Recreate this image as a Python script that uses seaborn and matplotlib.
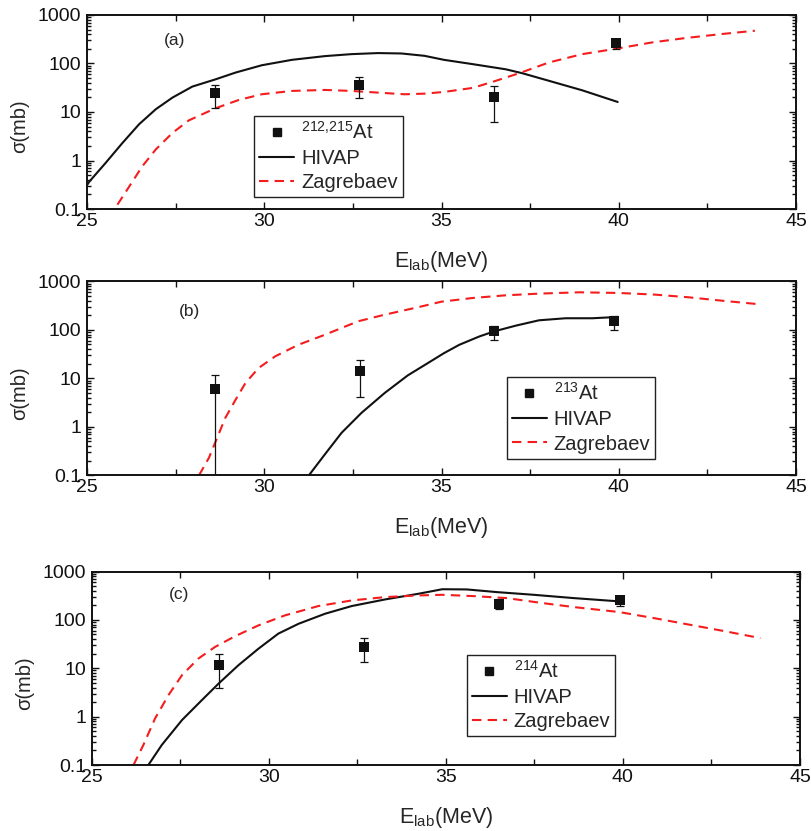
import numpy as np
import pandas as pd
import matplotlib
matplotlib.use("Agg")
import matplotlib.pyplot as plt
from matplotlib.ticker import LogLocator, NullFormatter, FixedLocator, MultipleLocator
from matplotlib.lines import Line2D
import seaborn as sns

# ---------------- data ----------------
# Panel (a): 212,215At
a_exp_E = [28.6, 32.67, 36.47, 39.91]
a_exp_s = [24.3, 35.6, 20.8, 259.0]
a_exp_lo = [12.3, 19.8, 6.2, 198.0]
a_exp_hi = [36.0, 53.0, 34.5, 309.0]
a_hiv_E = [25.0, 25.07, 25.53, 26.0, 26.47, 26.94, 27.41, 27.97, 28.62, 29.19, 29.93, 30.78, 31.71,
           32.46, 33.21, 33.87, 34.52, 35.07, 35.88, 36.81, 37.28, 38.03, 38.97, 39.97]
a_hiv_s = [0.31, 0.37, 0.9, 2.3, 5.6, 11.4, 19.8, 33.4, 47, 65, 92, 119, 142,
           156, 164, 161, 144, 119, 97, 76, 63, 44, 28, 16.1]
a_zag_E = [25.86, 26.19, 26.56, 26.94, 27.41, 27.87, 28.62, 29.28, 29.93, 30.78, 31.71, 32.46, 33.21,
           33.96, 34.52, 35.07, 35.88, 36.44, 37.19, 38.03, 38.97, 39.97, 40.94, 41.87, 42.9, 43.84]
a_zag_s = [0.123, 0.29, 0.76, 1.69, 3.7, 6.7, 11.9, 17.7, 23.2, 27.2, 28.5, 27.2, 25.1,
           23.2, 23.9, 25.9, 31.4, 41.8, 63, 105, 156, 204, 272, 334, 405, 474]

# Panel (b): 213At
b_exp_E = [28.62, 32.71, 36.49, 39.88]
b_exp_s = [6.1, 13.9, 93.0, 155.0]
b_exp_lo = [0.001, 4.1, 61.0, 100.0]
b_exp_hi = [11.9, 24.3, 122.0, 196.0]
b_hiv_E = [31.26, 31.71, 32.18, 32.74, 33.4, 34.05, 34.62, 35.07, 35.5, 36.07, 36.49, 37.1, 37.75,
           38.5, 39.25, 39.97]
b_hiv_s = [0.1, 0.27, 0.75, 1.93, 5.0, 11.5, 20.7, 33, 49, 73, 93, 122, 157,
           173, 173, 184]
b_zag_E = [28.16, 28.44, 28.67, 28.9, 29.19, 29.47, 29.84, 30.31, 30.96, 31.71, 32.65, 33.4, 34.33,
           35.0, 35.88, 36.81, 37.75, 38.87, 40.0, 41.03, 41.97, 42.9, 43.88]
b_zag_s = [0.1, 0.23, 0.59, 1.52, 3.6, 8.0, 16.3, 28.4, 49, 79, 150, 205, 291,
           380, 453, 514, 557, 593, 575, 531, 468, 399, 341]

# Panel (c): 214At
c_exp_E = [28.6, 32.7, 36.5, 39.91]
c_exp_s = [11.9, 27.5, 215.0, 252.0]
c_exp_lo = [3.9, 13.5, 165.0, 193.0]
c_exp_hi = [20.0, 42.0, 270.0, 310.0]
c_hiv_E = [26.6, 26.98, 27.55, 28.11, 28.58, 29.14, 29.71, 30.27, 30.84, 31.59, 32.34, 33.29, 34.23,
           34.9, 35.59, 36.44, 37.48, 38.61, 39.9]
c_hiv_s = [0.1, 0.26, 0.85, 2.19, 4.8, 11.5, 25.4, 52, 83, 134, 193, 265, 347,
           430, 426, 375, 330, 282, 241]
c_zag_E = [26.18, 26.46, 26.79, 27.17, 27.55, 28.01, 28.48, 29.05, 29.71, 30.46, 31.4, 32.34, 33.29,
           34.23, 34.9, 35.78, 36.72, 37.66, 38.61, 39.9, 40.96, 41.9, 42.84, 43.88]
c_zag_s = [0.1, 0.26, 0.92, 2.8, 7.2, 15.8, 27.5, 46, 77, 124, 193, 252, 296,
           320, 330, 310, 282, 226, 184, 145, 106, 79, 59, 42]

panel_tags = ["(a)", "(b)", "(c)"]
isotopes = [r"$^{212{,}215}$At", r"$^{213}$At", r"$^{214}$At"]
series_names = ["HIVAP", "Zagrebaev"]
x_ticks = [25, 30, 35, 40, 45]
y_ticks = [0.1, 1, 10, 100, 1000]
y_tick_labels = ["0.1", "1", "10", "100", "1000"]
x_label = r"E$_{\mathrm{lab}}$(MeV)"
y_label = "σ(mb)"

# ---------------- style ----------------
sns.set_style("ticks")
plt.rcParams["font.family"] = ["Liberation Sans", "DejaVu Sans"]
plt.rcParams["mathtext.fontset"] = "custom"
plt.rcParams["mathtext.rm"] = "Liberation Sans"
plt.rcParams["mathtext.it"] = "Liberation Sans"
plt.rcParams["mathtext.default"] = "rm"
FS = 14
RED = "#f41c1c"
DASH = (0, (4.5, 3))

fig = plt.figure(figsize=(8.11, 8.31), dpi=100)
W, H = 811.0, 831.0
# pixel boxes (left, right, top, bottom)
boxes = [(87, 796, 15, 209), (87, 796, 281.3, 475.3), (91.7, 800, 571.5, 765)]
axes_rects = [[l / W, 1 - b / H, (r - l) / W, (b - t) / H] for (l, r, t, b) in boxes]
legend_anchors = [(254 / W, 1 - 116 / H), (506.7 / W, 1 - 377.3 / H), (466.7 / W, 1 - 655 / H)]
tag_pos = [(27.48, 305), (27.88, 241), (27.47, 342)]

panels = [
    (a_exp_E, a_exp_s, a_exp_lo, a_exp_hi, a_hiv_E, a_hiv_s, a_zag_E, a_zag_s),
    (b_exp_E, b_exp_s, b_exp_lo, b_exp_hi, b_hiv_E, b_hiv_s, b_zag_E, b_zag_s),
    (c_exp_E, c_exp_s, c_exp_lo, c_exp_hi, c_hiv_E, c_hiv_s, c_zag_E, c_zag_s),
]

for i, (eE, es, elo, ehi, hE, hs, zE, zs) in enumerate(panels):
    ax = fig.add_axes(axes_rects[i])
    ax.set_yscale("log")
    df_h = pd.DataFrame({"E": hE, "s": hs})
    df_z = pd.DataFrame({"E": zE, "s": zs})
    df_e = pd.DataFrame({"E": eE, "s": es})
    sns.lineplot(data=df_h, x="E", y="s", ax=ax, color="#111111", lw=1.5, sort=False)
    sns.lineplot(data=df_z, x="E", y="s", ax=ax, color=RED, lw=1.5, sort=False,
                 linestyle=DASH)
    yerr = np.array([np.array(es) - np.array(elo), np.array(ehi) - np.array(es)])
    ax.errorbar(eE, es, yerr=yerr, fmt="none", ecolor="#111111", elinewidth=0.9,
                capsize=2.6, capthick=0.9, zorder=4)
    sns.scatterplot(data=df_e, x="E", y="s", ax=ax, marker="s", color="#111111", s=42,
                    edgecolor="#111111", linewidth=0, zorder=5)

    ax.set_xlim(25, 45)
    ax.set_ylim(0.1, 1000)
    ax.set_xticks(x_ticks)
    ax.set_xticklabels([str(t) for t in x_ticks])
    ax.xaxis.set_minor_locator(MultipleLocator(2.5))
    ax.yaxis.set_major_locator(FixedLocator(y_ticks))
    ax.set_yticklabels(y_tick_labels)
    ax.yaxis.set_minor_locator(LogLocator(base=10, subs=np.arange(2, 10) * 1.0, numticks=20))
    ax.yaxis.set_minor_formatter(NullFormatter())
    ax.tick_params(which="both", direction="in", top=True, right=True, labelsize=FS,
                   width=1.0, colors="#111111")
    ax.tick_params(which="major", length=5, pad=4)
    ax.tick_params(axis="x", which="major", pad=3)
    ax.tick_params(which="minor", length=2.6)
    ax.tick_params(axis="x", which="minor", length=4)
    for sp in ax.spines.values():
        sp.set_linewidth(1.4)
        sp.set_color("#111111")
    ax.set_xlabel(x_label, fontsize=FS + 1.5, va="center")
    ax.xaxis.set_label_coords(0.5, -0.27)
    ax.set_ylabel(y_label, fontsize=FS + 0.5, va="center")
    ax.yaxis.set_label_coords(-0.095, 0.425)
    ax.text(tag_pos[i][0], tag_pos[i][1], panel_tags[i], fontsize=12.5, ha="center", va="center")

    handles = [
        Line2D([], [], marker="s", color="#111111", linestyle="none", markersize=6),
        Line2D([], [], color="#111111", lw=1.5),
        Line2D([], [], color=RED, lw=1.5, linestyle=DASH),
    ]
    leg = ax.legend(handles, [isotopes[i]] + series_names, loc="upper left",
                    bbox_to_anchor=legend_anchors[i], bbox_transform=fig.transFigure,
                    fontsize=14.5, frameon=True, fancybox=False, framealpha=1,
                    edgecolor="#222222", handlelength=1.75, handletextpad=0.33,
                    borderpad=0.25, labelspacing=0.28, borderaxespad=0)
    leg.get_frame().set_linewidth(1.0)

fig.savefig("out.png", dpi=100)
